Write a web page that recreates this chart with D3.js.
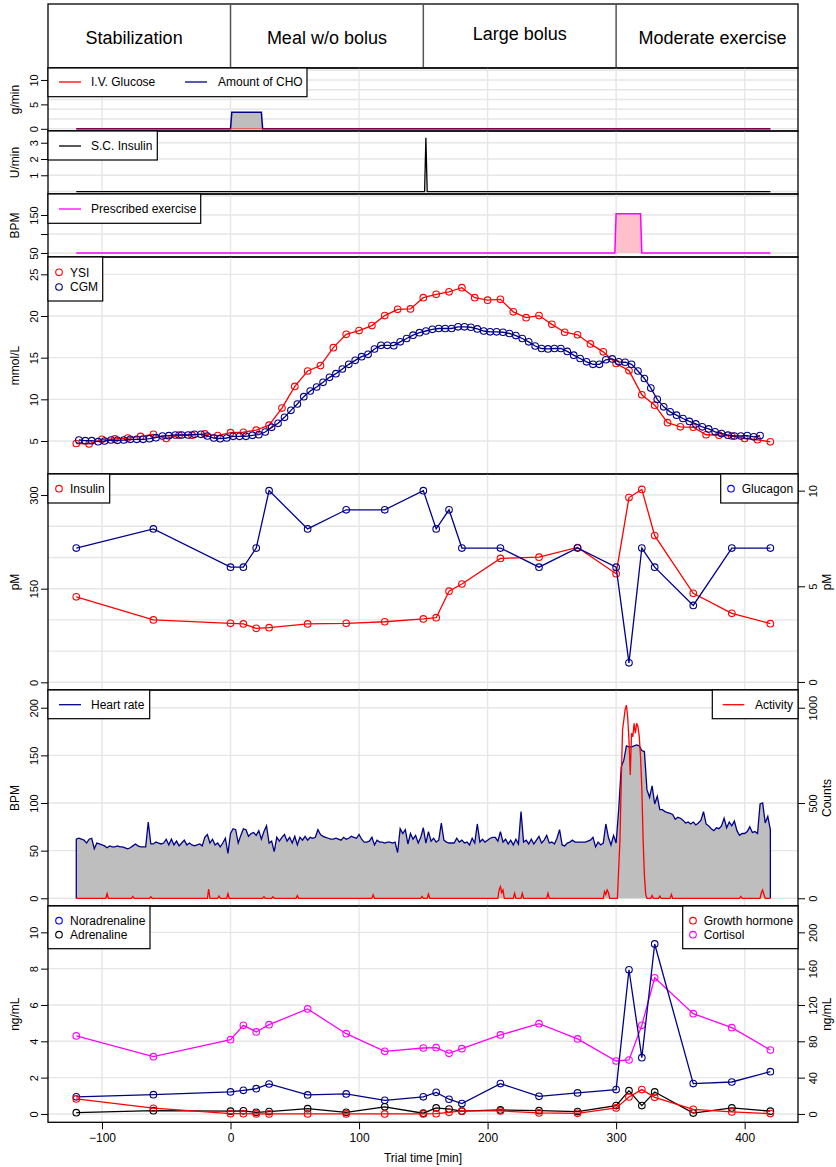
<!DOCTYPE html>
<html>
<head>
<meta charset="utf-8">
<script src="https://cdn.jsdelivr.net/npm/d3@7"></script>
<style>
  body { margin: 0; background: #fff; }
  svg { display: block; }
  text { font-family: "Liberation Sans", Arial, Helvetica, sans-serif; fill: #000; }
</style>
</head>
<body>
<svg id="chart" width="836" height="1167"></svg>
<script>
// ---------------- data ----------------
const phaseNames   = ["Stabilization", "Meal w/o bolus", "Large bolus", "Moderate exercise"];
const phaseCentres = [-75, 75, 225, 375];
const phaseEdges   = [0, 150, 300];

// carbohydrate and i.v. glucose infusion (g/min)
const choTime = [-120, 0, 1, 24, 25, 420];
const choRate = [0, 0, 3.4, 3.4, 0, 0];
const ivGlucoseTime = [-120, 420];
const ivGlucoseRate = [0, 0];

// subcutaneous insulin (U/min)
const scInsulinTime = [-120, 151, 152, 153, 420];
const scInsulinRate = [0, 0, 3.3, 0, 0];

// prescribed exercise (BPM)
const exerciseTime = [-120, 299, 300, 319, 320, 420];
const exerciseBpm  = [50, 50, 153, 153, 50, 50];

// plasma glucose, reference analyser every 10 min from -120
const ysiStart = -120, ysiStep = 10;
const ysi = [4.7, 4.65, 5.2, 5.25, 5.35, 5.55, 5.8, 5.3, 5.7, 5.7,
             5.85, 5.65, 6.0, 6.05, 6.3, 6.9, 8.95, 11.55, 13.4, 14.05,
             16.2, 17.8, 18.25, 18.85, 20.05, 20.8, 20.85, 22.2, 22.6, 22.9,
             23.4, 22.2, 21.9, 22.0, 20.5, 19.8, 20.05, 19.0, 18.05, 17.75,
             16.65, 15.7, 14.3, 13.45, 10.55, 9.3, 7.2, 6.7, 6.65, 5.75,
             5.7, 5.6, 5.3, 5.15, 4.9];

// continuous glucose monitor every 5 min from -118
const cgmStart = -118, cgmStep = 5;
const cgm = [5.12, 5.04, 5.04, 4.92, 5.0, 5.12, 5.08, 5.12, 5.2, 5.2,
             5.2, 5.28, 5.4, 5.6, 5.64, 5.72, 5.72, 5.72, 5.8, 5.8,
             5.6, 5.36, 5.28, 5.36, 5.56, 5.56, 5.56, 5.68, 5.76, 6.08,
             6.64, 7.12, 7.84, 8.68, 9.44, 10.32, 11.0, 11.48, 12.04, 12.64,
             13.08, 13.64, 14.2, 14.68, 15.12, 15.4, 16.04, 16.48, 16.48, 16.44,
             16.9, 17.3, 17.7, 18.0, 18.2, 18.4, 18.5, 18.5, 18.5, 18.7,
             18.7, 18.65, 18.45, 18.2, 18.1, 18.1, 18.05, 17.9, 17.65, 17.3,
             16.9, 16.4, 16.1, 16.05, 16.1, 16.1, 15.75, 15.3, 14.9, 14.5,
             14.2, 14.2, 14.75, 14.85, 14.5, 14.45, 14.2, 13.4, 12.5, 11.35,
             10.0, 9.1, 8.5, 8.1, 7.7, 7.35, 7.05, 6.7, 6.45, 6.1,
             5.9, 5.7, 5.6, 5.6, 5.65, 5.5, 5.65];

// blood samples
const sampleTime = [-120, -60, 0, 10, 20, 30, 60, 90, 120, 150, 160, 170, 180, 210, 240, 270, 300, 310, 320, 330, 360, 390, 420];
const insulin       = [137, 100, 94.5, 93.5, 86.5, 87.5, 93.5, 94.5, 97, 101.5, 103.5, 146, 157.5, 198.5, 200.5, 216, 174, 296, 309, 235, 142.5, 110.5, 94];
const glucagon      = [7, 8, 6, 6, 7, 10, 8, 9, 9, 10, 8, 9, 7, 7, 6, 7, 6, 1, 7, 6, 4, 7, 7];
const noradrenaline = [0.94, 1.06, 1.21, 1.30, 1.39, 1.65, 1.05, 1.10, 0.75, 0.94, 1.19, 0.81, 0.57, 1.67, 0.97, 1.16, 1.34, 7.94, 3.10, 9.36, 1.67, 1.76, 2.33];
const adrenaline    = [0.07, 0.18, 0.15, 0.17, 0.09, 0.13, 0.29, 0.09, 0.39, 0.04, 0.33, 0.27, 0.15, 0.22, 0.18, 0.13, 0.46, 1.28, 0.46, 1.21, 0.05, 0.33, 0.15];
const growthHormone = [16.5, 6.3, 0.3, 0.3, 0, 0, 0, 0, 0, 0, 0.3, 1.8, 3.3, 3.3, 1.1, 0.7, 6.6, 18.7, 26.8, 18.3, 5.1, 2.2, 0.4];
const cortisol      = [85.9, 63.1, 81.8, 97.6, 90.3, 98.3, 115.6, 88.4, 69.0, 72.6, 73.0, 66.8, 71.9, 87.0, 99.4, 82.6, 58.3, 59.4, 97.6, 150.0, 110.4, 95.0, 70.4];

// heart rate every 2 min from -120 (BPM)
const hrStart = -120, hrStep = 2;
const heartRate = [
  62, 63, 62, 61, 58, 62, 63, 52, 58, 57,
  56, 55, 53, 55, 54, 54, 55, 54, 54, 53,
  52, 53, 55, 57, 55, 54, 54, 54, 80, 57,
  57, 59, 58, 57, 58, 62, 56, 62, 56, 60,
  55, 58, 61, 56, 58, 56, 55, 56, 57, 55,
  64, 67, 58, 62, 56, 58, 54, 58, 63, 47,
  68, 73, 72, 58, 66, 73, 72, 65, 68, 69,
  66, 71, 62, 70, 76, 58, 60, 49, 64, 60,
  64, 67, 60, 64, 58, 65, 56, 64, 61, 65,
  61, 64, 63, 64, 72, 67, 65, 64, 63, 62,
  62, 63, 62, 61, 64, 62, 63, 65, 64, 63,
  67, 62, 59, 59, 60, 64, 56, 61, 59, 59,
  58, 59, 59, 58, 59, 48, 73, 68, 72, 57,
  68, 62, 66, 58, 64, 74, 58, 70, 60, 63,
  59, 61, 79, 61, 59, 58, 58, 58, 63, 59,
  61, 58, 59, 56, 63, 58, 78, 59, 62, 59,
  61, 63, 64, 64, 60, 70, 59, 62, 57, 61,
  56, 62, 57, 91, 59, 61, 57, 62, 57, 61,
  65, 58, 61, 66, 58, 59, 57, 63, 72, 56,
  55, 58, 59, 61, 59, 59, 59, 59, 59, 60,
  61, 64, 54, 59, 56, 58, 78, 64, 56, 66,
  58, 93, 138, 145, 160, 159, 159, 160, 161, 160,
  155, 154, 114, 106, 118, 99, 107, 93, 93, 91,
  90, 89, 88, 83, 85, 84, 82, 79, 80, 78,
  80, 77, 79, 82, 91, 78, 76, 73, 71, 74,
  73, 76, 84, 74, 80, 76, 81, 71, 66, 68,
  68, 70, 75, 69, 70, 68, 99, 100, 79, 86,
  72];

// accelerometer activity (counts)
const activityTime = [-120, -97, -96, -95, -77, -76, -75, -63, -62, -61, -18, -17, -16, -10, -9, -8, -3, -2, -1,
  25, 26, 27, 32, 33, 34, 51, 52, 53, 110, 111, 112, 148, 149, 150, 153, 154, 155,
  208, 209, 210, 211, 212, 213, 220, 221, 222, 226, 227, 228, 246, 247, 248,
  290, 291, 292, 293, 294, 295, 301, 303, 304, 305, 307, 308, 309, 310, 311, 312, 313, 314, 315, 316, 317, 318, 319, 320, 321, 322, 323, 324,
  327, 328, 329, 333, 334, 335, 342, 343, 344, 396, 397, 398, 412, 413, 414, 415, 416, 420];
const activityCounts = [0, 0, 24, 0, 0, 10, 0, 0, 8, 0, 0, 48, 0, 0, 12, 0, 0, 24, 0,
  0, 8, 0, 0, 8, 0, 0, 14, 0, 0, 18, 0, 0, 10, 0, 0, 22, 0,
  0, 45, 61, 30, 43, 0, 0, 26, 0, 0, 26, 0, 0, 26, 0,
  0, 35, 20, 43, 30, 0, 0, 306, 621, 883, 990, 1014, 950, 830, 647, 866, 848, 918, 866, 918, 900, 848, 743, 577, 306, 120, 20, 0,
  0, 14, 0, 0, 12, 0, 0, 20, 0, 0, 10, 0, 0, 30, 43, 20, 0, 0];

const xTicks = [-100, 0, 100, 200, 300, 400];

// ---------------- drawing ----------------
const svg = d3.select("#chart");
const L = 48, R = 798;
const x = d3.scaleLinear().domain([-142, 441.5]).range([L, R]);

const GRID = "#e6e6e6", NAVY = "#00008b", BLUE = "#0000ff", RED = "#ff0000",
      MAG = "#ff00ff", GREY = "#bebebe", PINK = "#ffc0cb";

const zip = (t, v) => t.map((d, i) => ({ t: d, v: v[i] }));
const seq = (start, step, v) => v.map((d, i) => ({ t: start + i * step, v: d }));

function lineGen(y) { return d3.line().x(d => x(d.t)).y(d => y(d.v)); }

function grid(top, bottom, y, vals) {
  const g = svg.append("g").attr("class", "grid");
  g.selectAll("line.h").data(vals).join("line").attr("class", "h")
    .attr("x1", L).attr("x2", R).attr("y1", d => y(d)).attr("y2", d => y(d))
    .attr("stroke", GRID).attr("stroke-width", 1.4);
  g.selectAll("line.v").data(xTicks).join("line").attr("class", "v")
    .attr("x1", d => x(d)).attr("x2", d => x(d)).attr("y1", top).attr("y2", bottom)
    .attr("stroke", GRID).attr("stroke-width", 1.4);
}

function border(top, bottom) {
  svg.append("rect").attr("x", L).attr("y", top).attr("width", R - L).attr("height", bottom - top)
    .attr("fill", "none").attr("stroke", "#000").attr("stroke-width", 1.3);
}

function leftAxis(y, ticks, labelled, title, top, bottom) {
  const g = svg.append("g").attr("transform", `translate(${L},0)`)
    .call(d3.axisLeft(y).tickValues(ticks).tickSize(7).tickFormat(d => labelled.includes(d) ? d : ""));
  g.select(".domain").remove();
  g.selectAll(".tick line").attr("stroke", "#000");
  g.selectAll(".tick text").attr("x", null).attr("dy", null).attr("fill", "#000")
    .attr("text-anchor", "middle").attr("transform", "translate(-10.5,0) rotate(-90)")
    .style("font-size", "11px");
  svg.append("text").attr("transform", `translate(18.5,${(top + bottom) / 2}) rotate(-90)`)
    .attr("text-anchor", "middle").style("font-size", "12px").text(title);
}

function rightAxis(y, ticks, title, top, bottom) {
  const g = svg.append("g").attr("transform", `translate(${R},0)`)
    .call(d3.axisRight(y).tickValues(ticks).tickSize(7).tickFormat(d3.format("d")));
  g.select(".domain").remove();
  g.selectAll(".tick line").attr("stroke", "#000");
  g.selectAll(".tick text").attr("x", null).attr("dy", null).attr("fill", "#000")
    .attr("text-anchor", "middle").attr("transform", "translate(19.3,0) rotate(-90)")
    .style("font-size", "11px");
  svg.append("text").attr("transform", `translate(831,${(top + bottom) / 2}) rotate(-90)`)
    .attr("text-anchor", "middle").style("font-size", "12px").text(title);
}

function legendBox(x0, y0, x1, y1) {
  svg.append("rect").attr("x", x0).attr("y", y0).attr("width", x1 - x0).attr("height", y1 - y0)
    .attr("fill", "#fff").attr("stroke", "#000").attr("stroke-width", 1.2);
}
function legendText(tx, y, label) {
  svg.append("text").attr("x", tx).attr("y", y + 4.3).style("font-size", "12px").text(label);
}
function legendLine(x0, x1, y, color, tx, label) {
  svg.append("line").attr("x1", x0).attr("x2", x1).attr("y1", y).attr("y2", y)
    .attr("stroke", color).attr("stroke-width", 1.3);
  legendText(tx, y, label);
}
function legendPoint(cx, y, color, tx, label) {
  svg.append("circle").attr("cx", cx).attr("cy", y).attr("r", 3.3)
    .attr("fill", "none").attr("stroke", color).attr("stroke-width", 1.1);
  legendText(tx, y, label);
}

function series(y, data, color, withPoints) {
  svg.append("path").datum(data).attr("d", lineGen(y))
    .attr("fill", "none").attr("stroke", color).attr("stroke-width", 1.3);
  if (withPoints) {
    svg.append("g").selectAll("circle").data(data).join("circle")
      .attr("cx", d => x(d.t)).attr("cy", d => y(d.v)).attr("r", 3.3)
      .attr("fill", "none").attr("stroke", color).attr("stroke-width", 1.1);
  }
}

// ---- phase header ----
{
  const top = 4, bottom = 68;
  border(top, bottom);
  svg.append("g").selectAll("line").data(phaseEdges).join("line")
    .attr("x1", d => x(d)).attr("x2", d => x(d)).attr("y1", top).attr("y2", bottom)
    .attr("stroke", "#555").attr("stroke-width", 1.5);
  const baseline = [44, 44, 40, 44];
  svg.append("g").selectAll("text").data(phaseNames).join("text")
    .attr("x", (d, i) => x(phaseCentres[i])).attr("y", (d, i) => baseline[i])
    .attr("text-anchor", "middle").style("font-size", "18px").text(d => d);
}

// ---- meal / i.v. glucose ----
{
  const top = 68, bottom = 131;
  const y = d3.scaleLinear().domain([-0.45, 12.45]).range([bottom, top]);
  grid(top, bottom, y, [0, 2, 4, 6, 8, 10, 12]);
  svg.append("path").datum(zip(choTime, choRate)).attr("d", lineGen(y))
    .attr("fill", GREY).attr("stroke", NAVY).attr("stroke-width", 1.5);
  // translucent red over the navy baseline gives the overlapping maroon trace
  svg.append("path").datum(zip(ivGlucoseTime, ivGlucoseRate)).attr("d", lineGen(y))
    .attr("fill", "none").attr("stroke", RED).attr("stroke-opacity", 0.5).attr("stroke-width", 1.5);
  border(top, bottom);
  legendBox(L, top, 307, 96.7);
  legendLine(59, 81, 82, RED, 91, "I.V. Glucose");
  legendLine(185, 207, 82, NAVY, 218, "Amount of CHO");
  leftAxis(y, [0, 5, 10], [0, 5, 10], "g/min", top, bottom);
}

// ---- subcutaneous insulin ----
{
  const top = 131, bottom = 194;
  const y = d3.scaleLinear().domain([-0.15, 3.72]).range([bottom, top]);
  grid(top, bottom, y, [0, 1, 2, 3]);
  series(y, zip(scInsulinTime, scInsulinRate), "#000", false);
  border(top, bottom);
  legendBox(L, top, 157.3, 160);
  legendLine(59, 81, 146, "#000", 91, "S.C. Insulin");
  leftAxis(y, [1, 2, 3], [1, 2, 3], "U/min", top, bottom);
}

// ---- prescribed exercise ----
{
  const top = 194, bottom = 257;
  const y = d3.scaleLinear().domain([39.5, 205.3]).range([bottom, top]);
  grid(top, bottom, y, [50, 100, 150, 200]);
  svg.append("path").datum(zip(exerciseTime, exerciseBpm)).attr("d", lineGen(y))
    .attr("fill", PINK).attr("stroke", MAG).attr("stroke-width", 1.5);
  border(top, bottom);
  legendBox(L, top, 200.7, 223.3);
  legendLine(59, 81, 209, MAG, 91, "Prescribed exercise");
  leftAxis(y, [50, 100, 150], [50, 150], "BPM", top, bottom);
}

// ---- glucose ----
{
  const top = 257, bottom = 474;
  const y = d3.scaleLinear().domain([1.04, 27.08]).range([bottom, top]);
  grid(top, bottom, y, [5, 10, 15, 20, 25]);
  series(y, seq(ysiStart, ysiStep, ysi), RED, true);
  series(y, seq(cgmStart, cgmStep, cgm), NAVY, true);
  border(top, bottom);
  legendBox(L, top, 102.7, 301);
  legendPoint(59, 272.3, RED, 70, "YSI");
  legendPoint(59, 287, NAVY, 70, "CGM");
  leftAxis(y, [5, 10, 15, 20, 25], [5, 10, 15, 20, 25], "mmol/L", top, bottom);
}

// ---- insulin & glucagon ----
{
  const top = 474, bottom = 690;
  const y = d3.scaleLinear().domain([-12.3, 333.7]).range([bottom, top]);
  const yR = d3.scaleLinear().domain([-0.42, 10.87]).range([bottom, top]);
  grid(top, bottom, y, [0, 50, 100, 150, 200, 250, 300]);
  series(y, zip(sampleTime, insulin), RED, true);
  series(yR, zip(sampleTime, glucagon), NAVY, true);
  border(top, bottom);
  legendBox(L, top, 109.7, 503);
  legendPoint(59, 488.7, RED, 70, "Insulin");
  legendBox(720.7, top, R, 503);
  legendPoint(731, 488.7, BLUE, 741.7, "Glucagon");
  leftAxis(y, [0, 150, 300], [0, 150, 300], "pM", top, bottom);
  rightAxis(yR, [0, 5, 10], "pM", top, bottom);
}

// ---- heart rate & activity ----
{
  const top = 690, bottom = 906;
  const y = d3.scaleLinear().domain([-8.1, 218.6]).range([bottom, top]);
  const yR = d3.scaleLinear().domain([-40.5, 1093]).range([bottom, top]);
  grid(top, bottom, y, [0, 50, 100, 150, 200]);
  const hr = seq(hrStart, hrStep, heartRate);
  svg.append("path").datum(hr)
    .attr("d", d3.area().x(d => x(d.t)).y0(y(0)).y1(d => y(d.v)))
    .attr("fill", GREY).attr("stroke", "none");
  const first = hr[0], last = hr[hr.length - 1];
  svg.append("path")
    .datum([{ t: first.t, v: 0 }, ...hr, { t: last.t, v: 0 }])
    .attr("d", lineGen(y)).attr("fill", "none").attr("stroke", NAVY).attr("stroke-width", 1.3);
  series(yR, zip(activityTime, activityCounts), RED, false);
  border(top, bottom);
  legendBox(L, top, 149.7, 718.7);
  legendLine(59, 81, 704.7, NAVY, 91, "Heart rate");
  legendBox(712.3, top, R, 718.7);
  legendLine(722.7, 744.3, 704.7, RED, 755, "Activity");
  leftAxis(y, [0, 50, 100, 150, 200], [0, 50, 100, 150, 200], "BPM", top, bottom);
  rightAxis(yR, [0, 500, 1000], "Counts", top, bottom);
}

// ---- catecholamines, growth hormone, cortisol ----
{
  const top = 906, bottom = 1122.3;
  const y = d3.scaleLinear().domain([-0.46, 11.45]).range([bottom, top]);
  const yR = d3.scaleLinear().domain([-9.2, 229]).range([bottom, top]);
  grid(top, bottom, y, [0, 2, 4, 6, 8, 10]);
  series(yR, zip(sampleTime, cortisol), MAG, true);
  series(y, zip(sampleTime, noradrenaline), NAVY, true);
  series(y, zip(sampleTime, adrenaline), "#000", true);
  series(yR, zip(sampleTime, growthHormone), RED, true);
  border(top, bottom);
  legendBox(L, top, 150, 948.7);
  legendPoint(59, 920.7, BLUE, 70, "Noradrenaline");
  legendPoint(59, 934.7, "#000", 70, "Adrenaline");
  legendBox(682.7, top, R, 948.7);
  legendPoint(693, 920.7, RED, 703.7, "Growth hormone");
  legendPoint(693, 934.7, MAG, 703.7, "Cortisol");
  leftAxis(y, [0, 2, 4, 6, 8, 10], [0, 2, 4, 6, 8, 10], "ng/mL", top, bottom);
  rightAxis(yR, [0, 40, 80, 120, 160, 200], "ng/mL", top, bottom);

  const gx = svg.append("g").attr("transform", `translate(0,${bottom})`)
    .call(d3.axisBottom(x).tickValues(xTicks).tickSize(7).tickPadding(4));
  gx.select(".domain").remove();
  gx.selectAll(".tick line").attr("stroke", "#000");
  gx.selectAll(".tick text").attr("fill", "#000").style("font-size", "12px");
  svg.append("text").attr("x", (L + R) / 2).attr("y", 1162)
    .attr("text-anchor", "middle").style("font-size", "12px").text("Trial time [min]");
}
</script>
</body>
</html>
